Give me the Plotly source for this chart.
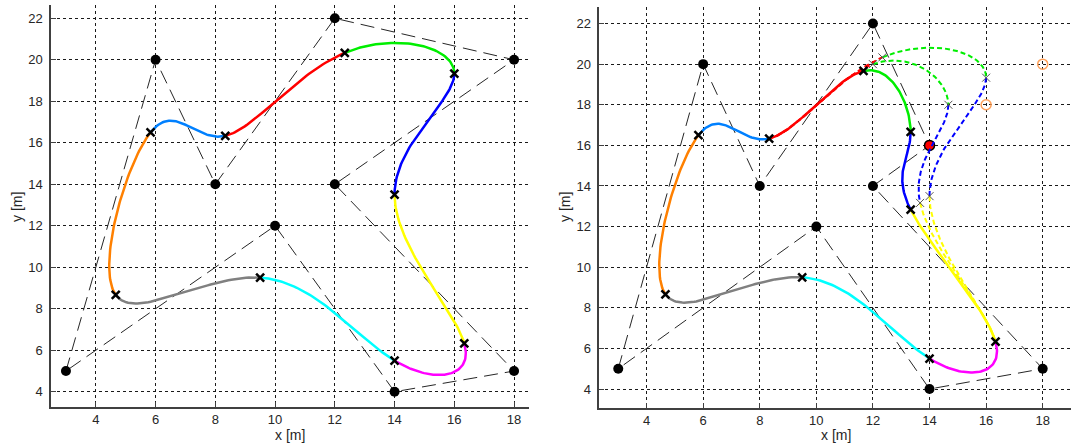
import numpy as np
import plotly.graph_objects as go

# Control polygon of the closed uniform cubic B-spline (metres)
ctrl_x = [3, 6, 8, 12, 18, 12, 18, 14, 10]
ctrl_y = [5, 20, 14, 22, 20, 14, 5, 4, 12]

# Colour of each spline segment; segment k runs from knot k to knot k+1
segment_colors = ["#FF8000", "#0080FF", "#FF0000", "#00EE00", "#0000FF",
                  "#FFFF00", "#FF00FF", "#00FFFF", "#808080"]

# Right panel: control point 4 is dragged through these positions (last = final)
moved_index = 4
moved_x = [18, 16, 14]
moved_y = [20, 18, 16]

x_ticks = [4, 6, 8, 10, 12, 14, 16, 18]
y_ticks = [4, 6, 8, 10, 12, 14, 16, 18, 20, 22]

W, H = 1071, 448
FONT = "Liberation Sans, Arial, sans-serif"
TXT = "#262626"


def basis(t):
    return [(1 - t) ** 3 / 6,
            (3 * t ** 3 - 6 * t ** 2 + 4) / 6,
            (-3 * t ** 3 + 3 * t ** 2 + 3 * t + 1) / 6,
            t ** 3 / 6]


def segment(px, py, k, samples=60):
    n = len(px)
    idx = [(k - 1) % n, k % n, (k + 1) % n, (k + 2) % n]
    t = np.linspace(0, 1, samples)
    b = basis(t)
    xs = sum(b[j] * px[idx[j]] for j in range(4))
    ys = sum(b[j] * py[idx[j]] for j in range(4))
    return xs, ys


def knot(px, py, k):
    xs, ys = segment(px, py, k, samples=2)
    return xs[0], ys[0]


def affected(k, n, i):
    return i in [(k - 1) % n, k % n, (k + 1) % n, (k + 2) % n]


fig = go.Figure()
n = len(ctrl_x)


def add_polygon(px, py, xa, ya):
    fig.add_trace(go.Scatter(x=list(px) + [px[0]], y=list(py) + [py[0]],
                             mode="lines", xaxis=xa, yaxis=ya,
                             line=dict(color="#262626", width=1, dash="14px,7px")))


def add_points(px, py, xa, ya):
    fig.add_trace(go.Scatter(x=px, y=py, mode="markers", xaxis=xa, yaxis=ya,
                             marker=dict(color="black", size=10)))


def add_knots(px, py, ks, xa, ya, bold=True):
    kx, ky = zip(*[knot(px, py, k) for k in ks])
    fig.add_trace(go.Scatter(x=kx, y=ky, mode="markers", xaxis=xa, yaxis=ya,
                             marker=dict(symbol="x-thin", size=8,
                                         line=dict(color="black" if bold else "#555555",
                                                   width=2.5 if bold else 1))))


# ---- left panel: original spline ----
add_polygon(ctrl_x, ctrl_y, "x", "y")
add_points(ctrl_x, ctrl_y, "x", "y")
for k in range(n):
    xs, ys = segment(ctrl_x, ctrl_y, k)
    fig.add_trace(go.Scatter(x=xs, y=ys, mode="lines", xaxis="x", yaxis="y",
                             line=dict(color=segment_colors[k], width=2.5)))
add_knots(ctrl_x, ctrl_y, range(n), "x", "y")

# ---- right panel: control point 4 moved ----
final_x = list(ctrl_x)
final_y = list(ctrl_y)
final_x[moved_index] = moved_x[-1]
final_y[moved_index] = moved_y[-1]

add_polygon(final_x, final_y, "x2", "y2")
others_x = [v for i, v in enumerate(final_x) if i != moved_index]
others_y = [v for i, v in enumerate(final_y) if i != moved_index]
add_points(others_x, others_y, "x2", "y2")
fig.add_trace(go.Scatter(x=moved_x[:-1], y=moved_y[:-1], mode="markers", xaxis="x2", yaxis="y2",
                         marker=dict(symbol="circle-open", size=10,
                                     line=dict(color="#FF0000", width=1.5))))
fig.add_trace(go.Scatter(x=[moved_x[-1]], y=[moved_y[-1]], mode="markers", xaxis="x2", yaxis="y2",
                         marker=dict(color="#FF0000", size=10,
                                     line=dict(color="black", width=1.5))))

affected_segments = [k for k in range(n) if affected(k, n, moved_index)]
affected_knots = sorted({k for s in affected_segments for k in (s, s + 1)}
                        - {affected_segments[0], (affected_segments[-1] + 1) % n})

# intermediate positions: dashed segments and thin knot marks
for mx, my in zip(moved_x[:-1], moved_y[:-1]):
    px = list(ctrl_x)
    py = list(ctrl_y)
    px[moved_index] = mx
    py[moved_index] = my
    for k in affected_segments:
        xs, ys = segment(px, py, k)
        fig.add_trace(go.Scatter(x=xs, y=ys, mode="lines", xaxis="x2", yaxis="y2",
                                 line=dict(color=segment_colors[k], width=2, dash="5px,3px")))

for k in range(n):
    xs, ys = segment(final_x, final_y, k)
    fig.add_trace(go.Scatter(x=xs, y=ys, mode="lines", xaxis="x2", yaxis="y2",
                             line=dict(color=segment_colors[k], width=2.5)))

for mx, my in zip(moved_x[:-1], moved_y[:-1]):
    px = list(ctrl_x)
    py = list(ctrl_y)
    px[moved_index] = mx
    py[moved_index] = my
    add_knots(px, py, affected_knots, "x2", "y2", bold=False)
add_knots(final_x, final_y, range(n), "x2", "y2")


def px2paper_x(p):
    return p / W


def px2paper_y(p):
    return 1 - p / H


axis_common = dict(showgrid=True, gridcolor="#1a1a1a", gridwidth=1, griddash="3px,3px",
                   zeroline=False, showline=True, linecolor="#404040", linewidth=1.5,
                   mirror=False, ticks="inside", ticklen=5, tickcolor="#404040",
                   tickfont=dict(family=FONT, size=13, color=TXT))

fig.update_layout(
    width=W, height=H, margin=dict(l=0, r=0, t=0, b=0),
    paper_bgcolor="white", plot_bgcolor="white", showlegend=False,
    xaxis=dict(domain=[px2paper_x(51), px2paper_x(529)], range=[2.5, 18.5],
               tickvals=x_ticks, anchor="y", **axis_common),
    yaxis=dict(domain=[px2paper_y(406.7), px2paper_y(5)], range=[3.28, 22.64],
               tickvals=y_ticks, anchor="x", ticklabelstandoff=4, **axis_common),
    xaxis2=dict(domain=[px2paper_x(599.3), 1.0], range=[2.33, 19.0],
                tickvals=x_ticks, anchor="y2", **axis_common),
    yaxis2=dict(domain=[px2paper_y(407.7), px2paper_y(6.5)], range=[3.08, 22.84],
                tickvals=y_ticks, anchor="x2", ticklabelstandoff=4, **axis_common),
)

titles = [("x [m]", 290, 435, 0), ("y [m]", 17, 207, -90),
          ("x [m]", 836, 435, 0), ("y [m]", 565, 207, -90)]
for text, x, y, ang in titles:
    fig.add_annotation(text=text, x=px2paper_x(x), y=px2paper_y(y), xref="paper", yref="paper",
                       showarrow=False, textangle=ang, xanchor="center", yanchor="middle",
                       font=dict(family=FONT, size=14, color=TXT))

fig.write_html("out.html")
